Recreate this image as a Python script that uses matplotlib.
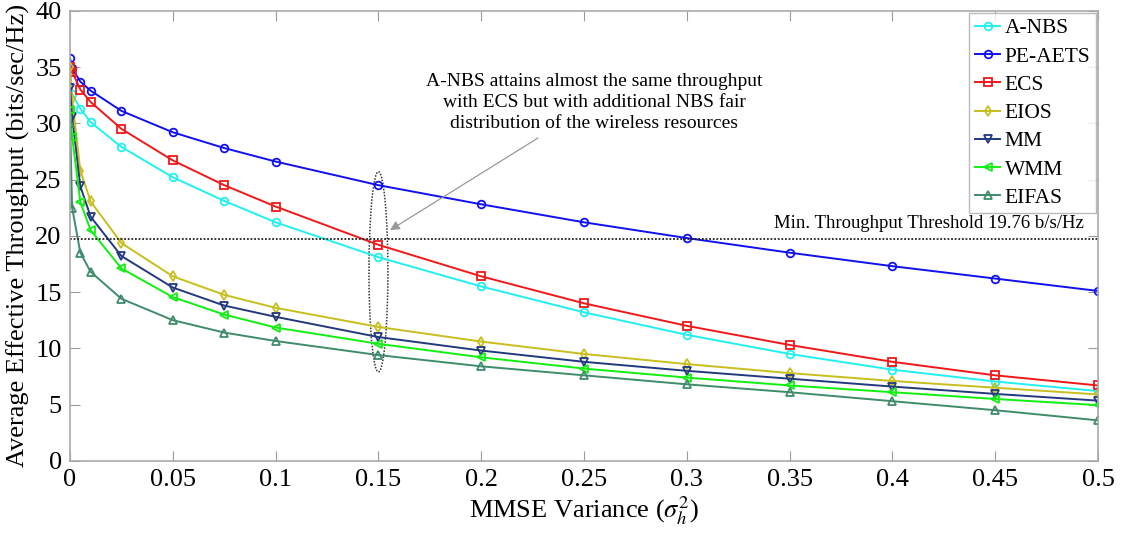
"""
MMSE variance vs average effective throughput
"""
import matplotlib
matplotlib.use('Agg')
import matplotlib.pyplot as plt
from matplotlib.patches import Ellipse

plt.rcParams['font.family'] = ['Liberation Serif', 'DejaVu Serif']
plt.rcParams['mathtext.fontset'] = 'stix'

# x points (MMSE variance)
variance = [0, 0.001, 0.005, 0.01, 0.025, 0.05, 0.075, 0.1, 0.15,
            0.2, 0.25, 0.3, 0.35, 0.4, 0.45, 0.5]

a_nbs = [34.9, 32.6, 31.3, 30.1, 27.9, 25.2, 23.1, 21.2, 18.1,
         15.5, 13.2, 11.2, 9.5, 8.1, 7.05, 6.2]
pe_aets = [35.8, 34.9, 33.7, 32.9, 31.1, 29.2, 27.8, 26.6, 24.5,
           22.8, 21.2, 19.8, 18.5, 17.3, 16.2, 15.1]
ecs = [35.0, 34.6, 33.0, 31.9, 29.5, 26.7, 24.5, 22.6, 19.2,
       16.4, 14.0, 12.0, 10.3, 8.8, 7.6, 6.7]
eios = [35.0, 32.2, 25.8, 23.05, 19.35, 16.4, 14.75, 13.6, 11.9,
        10.6, 9.5, 8.6, 7.8, 7.1, 6.5, 5.9]
mm = [33.1, 30.6, 24.4, 21.7, 18.2, 15.4, 13.8, 12.8, 11.0,
      9.8, 8.8, 8.0, 7.3, 6.6, 5.95, 5.35]
wmm = [31.2, 28.8, 23.0, 20.5, 17.1, 14.55, 13.0, 11.85, 10.4,
       9.2, 8.2, 7.4, 6.7, 6.1, 5.5, 4.95]
eifas = [30.0, 22.5, 18.5, 16.8, 14.4, 12.5, 11.4, 10.65, 9.4,
         8.4, 7.6, 6.8, 6.1, 5.3, 4.5, 3.6]

labels = ['A-NBS', 'PE-AETS', 'ECS', 'EIOS', 'MM', 'WMM', 'EIFAS']
series = [a_nbs, pe_aets, ecs, eios, mm, wmm, eifas]
colors = ['#22F0F0', '#1010F0', '#F01818', '#C8BE1E', '#23397E', '#10F010', '#3F8C6A']
markers = ['o', 'o', 's', 'd', 'v', '<', '^']

threshold = 19.76

fig = plt.figure(figsize=(11.3, 5.39), dpi=100)
ax = fig.add_axes([0.062, 0.145, 0.9097, 0.835])

for vals, lab, c, m in zip(series, labels, colors, markers):
    ax.plot(variance, vals, color=c, marker=m, markersize=5.5,
            markerfacecolor='none', markeredgewidth=1.3, linewidth=1.4, label=lab)

# 閾値
ax.plot([0, 0.5], [threshold, threshold], linestyle=(0, (1, 1)), color='#222222', linewidth=1.3)
ax.text(0.493, 20.3, 'Min. Throughput Threshold 19.76 b/s/Hz', ha='right', va='bottom', fontsize=13.5)

# 楕円と注釈
ell = Ellipse((0.15, 16.8), 0.0092, 17.8, fill=False, linestyle=(0, (1, 1)),
              edgecolor='#333333', linewidth=1.1)
ax.add_patch(ell)
ax.annotate('A-NBS attains almost the same throughput\nwith ECS but with additional NBS fair\ndistribution of the wireless resources',
            xy=(0.1556, 20.5), xytext=(0.255, 29.2), ha='center', va='bottom', fontsize=14,
            linespacing=1.3,
            arrowprops=dict(arrowstyle='-|>', color='#999999', lw=0.9,
                            shrinkA=4, shrinkB=0, mutation_scale=14))

ax.set_xlim(0, 0.5)
ax.set_ylim(0, 40)
ax.set_xticks([0, 0.05, 0.1, 0.15, 0.2, 0.25, 0.3, 0.35, 0.4, 0.45, 0.5])
ax.set_xticklabels(['0', '0.05', '0.1', '0.15', '0.2', '0.25', '0.3', '0.35', '0.4', '0.45', '0.5'])
ax.set_yticks(range(0, 41, 5))
ax.tick_params(direction='in', top=True, right=True, labelsize=19, color='#999999', length=7, pad=6)
for s in ax.spines.values():
    s.set_color('#AAAAAA')
    s.set_linewidth(1.2)

ax.set_xlabel(r'MMSE Variance ($\sigma_h^2$)', fontsize=19, labelpad=2)
ax.set_ylabel('Average Effective Throughput (bits/sec/Hz)', fontsize=19, labelpad=4)

leg = ax.legend(loc='upper right', fontsize=15.5, handlelength=1.2, handletextpad=0.2,
                borderaxespad=0.1, labelspacing=0.38, fancybox=False, borderpad=0.25)
leg.get_frame().set_edgecolor('#AAAAAA')
leg.get_frame().set_linewidth(1.0)

plt.savefig('out.png', dpi=100)
plt.close()
